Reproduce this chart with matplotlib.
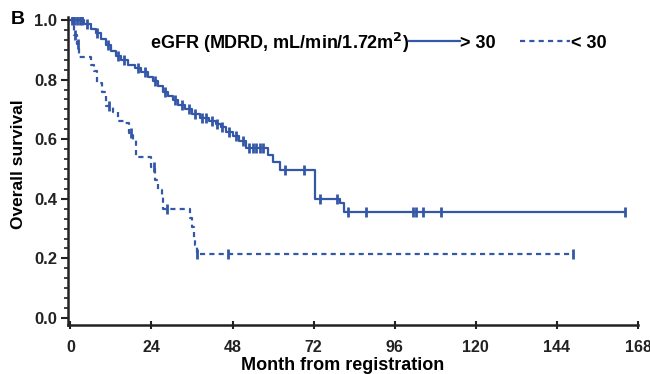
import numpy as np
from matplotlib import pyplot as plt
from matplotlib.ticker import MultipleLocator, AutoMinorLocator

plt.rcParams['font.family'] = ['Liberation Sans', 'DejaVu Sans']
plt.rcParams['font.weight'] = 'bold'

# eGFR > 30 : step times (months) and survival after each step
times_hi = [0, 4, 6, 7.5, 9, 10.5, 12, 13.5, 15, 17, 19, 21, 23, 24.5, 26, 27.5, 29, 30.5,
            32, 34, 36, 38.5, 41, 43, 44.5, 46, 48, 50, 52, 58.5, 60, 62, 72.5, 79.7, 81]
surv_hi = [1.0, 0.985, 0.97, 0.955, 0.935, 0.915, 0.895, 0.88, 0.865, 0.85, 0.84, 0.825, 0.81,
           0.795, 0.78, 0.76, 0.745, 0.73, 0.715, 0.70, 0.685, 0.67, 0.66, 0.65, 0.64, 0.625,
           0.61, 0.595, 0.57, 0.547, 0.524, 0.497, 0.40, 0.385, 0.357]
end_hi = 164.3
cens_hi = [0.5, 1.2, 2, 2.8, 3.5, 5, 8, 11, 14, 16, 20, 22, 25, 28, 31, 33, 35, 37, 39, 40,
           42, 43.5, 45, 47, 49, 51, 53, 54, 55, 56, 57, 63.5, 69, 74, 79, 82.2, 87.6,
           101.5, 102.3, 104.4, 109.8, 164.3]

# eGFR < 30
times_lo = [0, 1, 2, 2.5, 6, 7, 8, 9.5, 10.5, 12.5, 14, 16, 17.5, 18.5, 19.5, 24, 25, 26, 27,
            27.5, 35.5, 36, 36.5, 37, 37.5]
surv_lo = [1.0, 0.95, 0.92, 0.876, 0.85, 0.83, 0.79, 0.76, 0.71, 0.69, 0.66, 0.654, 0.62,
           0.597, 0.54, 0.507, 0.463, 0.43, 0.406, 0.367, 0.335, 0.305, 0.27, 0.245, 0.215]
end_lo = 148.9
cens_lo = [1.5, 2.2, 11.5, 18, 24.8, 28.6, 37.5, 46.7, 148.9]

x_ticks = [0, 24, 48, 72, 96, 120, 144, 168]

blue = '#3457a8'


def surv_at(times, surv, t):
    idx = np.searchsorted(times, t, side='right') - 1
    return np.array(surv)[idx]


fig = plt.figure(figsize=(6.5, 3.74), dpi=100)
ax = fig.add_axes([68 / 650, 49 / 374, 570 / 650, 308 / 374])

th = times_hi + [end_hi]
sh = surv_hi + [surv_hi[-1]]
ax.step(th, sh, where='post', color=blue, lw=1.6, label='> 30')
ax.plot(cens_hi, surv_at(times_hi, surv_hi, cens_hi), ls='none', marker='|',
        ms=7, mew=2, color=blue)

tl = times_lo + [end_lo]
sl = surv_lo + [surv_lo[-1]]
ax.step(tl, sl, where='post', color=blue, lw=1.6, dashes=(2.3, 1.9), label='< 30')
ax.plot(cens_lo, surv_at(times_lo, surv_lo, cens_lo), ls='none', marker='|',
        ms=7, mew=2, color=blue)

ax.set_xlim(-0.7, 168)
ax.set_ylim(-0.0235, 1.01)
ax.set_xticks(x_ticks)
ax.yaxis.set_major_locator(MultipleLocator(0.2))
ax.yaxis.set_minor_locator(AutoMinorLocator(6))
ax.set_yticks([0, 0.2, 0.4, 0.6, 0.8, 1.0])
ax.set_yticklabels(['0.0', '0.2', '0.4', '0.6', '0.8', '1.0'])

for s in ['top', 'right']:
    ax.spines[s].set_visible(False)
for s in ['left', 'bottom']:
    ax.spines[s].set_linewidth(1.8)
    ax.spines[s].set_color('#222222')

ax.tick_params(axis='y', which='major', direction='out', length=5, width=1.5,
               labelsize=12, pad=3, colors='#222222')
ax.tick_params(axis='y', which='minor', direction='out', length=3, width=1.2, colors='#222222')
ax.tick_params(axis='x', which='major', direction='inout', length=6, width=1.5,
               labelsize=11.5, pad=8, colors='#222222')

fig.text(343 / 650, 1 - 365 / 374, 'Month from registration', ha='center', va='center',
         fontsize=13, fontweight='bold')
fig.text(19 / 650, 1 - 164 / 374, 'Overall survival', ha='center', va='center',
         rotation=90, fontsize=12.5, fontweight='bold')
fig.text(18 / 650, 1 - 20 / 374, 'B', ha='center', va='center', fontsize=14, fontweight='bold')
fig.text(409 / 650, 1 - 43 / 374, 'eGFR (MDRD, mL/min/1.72m$^\\mathbf{2}$)', ha='right',
         va='center', fontsize=13, fontweight='bold')

leg = ax.legend(loc='center left', bbox_to_anchor=(409 / 650, 1 - 43 / 374),
                bbox_transform=fig.transFigure, ncol=2, frameon=False, borderpad=0,
                borderaxespad=0, handlelength=2.8, handletextpad=0.05, columnspacing=1.3,
                prop={'size': 13, 'weight': 'bold'})

fig.savefig('out.png', dpi=100)
